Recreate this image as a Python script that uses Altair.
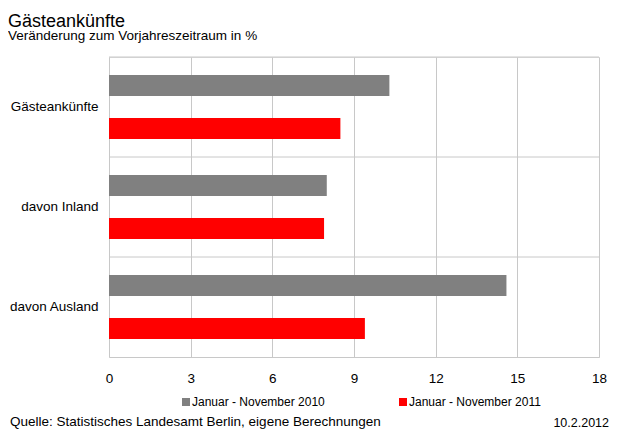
import altair as alt
import pandas as pd

categories = ["Gästeankünfte", "davon Inland", "davon Ausland"]
series = ["Januar - November 2010", "Januar - November 2011"]
values_2010 = [10.3, 8.0, 14.6]
values_2011 = [8.5, 7.9, 9.4]
x_ticks = [0, 3, 6, 9, 12, 15, 18]
colors = ["#808080", "#ff0000"]

title_text = "Gästeankünfte"
subtitle_text = "Veränderung zum Vorjahreszeitraum  in %"
source_text = "Quelle: Statistisches Landesamt Berlin, eigene Berechnungen"
date_text = "10.2.2012"

rows = []
for c, a, b in zip(categories, values_2010, values_2011):
    rows.append({"cat": c, "series": series[0], "value": a})
    rows.append({"cat": c, "series": series[1], "value": b})
df = pd.DataFrame(rows)

FONT = "Liberation Sans"
GRID = "#c8c8c8"

yscale = alt.Scale(domain=categories, paddingInner=0, paddingOuter=0)
xscale = alt.Scale(domain=[0, 18], nice=False)

yaxis = alt.Axis(title=None, grid=False, ticks=False, domain=False,
                 labelFontSize=13.5, labelPadding=11, labelColor="#000000",
                 labelFont=FONT)

bars = alt.Chart(df).mark_bar().encode(
    x=alt.X("value:Q", scale=xscale,
            axis=alt.Axis(values=x_ticks, title=None, grid=True, gridColor=GRID,
                          ticks=False, domain=True, domainColor=GRID,
                          labelFontSize=13.5, labelPadding=14, labelColor="#000000",
                          labelFont=FONT, labelFlush=False)),
    y=alt.Y("cat:N", scale=yscale, sort=categories, axis=yaxis),
    yOffset=alt.YOffset("series:N", sort=series,
                        scale=alt.Scale(paddingInner=0.51, paddingOuter=0.42)),
    color=alt.Color("series:N", sort=series,
                    scale=alt.Scale(domain=series, range=colors),
                    legend=alt.Legend(title=None, orient="none", direction="horizontal",
                                      legendX=71, legendY=339, symbolType="square",
                                      symbolSize=64, symbolStrokeWidth=0,
                                      labelFontSize=12, labelFont=FONT,
                                      labelColor="#000000", columnPadding=72,
                                      labelOffset=0, padding=0)),
)

seps = alt.Chart(pd.DataFrame({"cat": categories})).mark_rule(
    color=GRID, strokeWidth=1
).encode(
    y=alt.Y("cat:N", scale=yscale, sort=categories, bandPosition=0, axis=yaxis),
    x=alt.datum(0, scale=xscale),
    x2=alt.datum(18),
)

def label(text, x, y, size, align="left"):
    return alt.Chart(pd.DataFrame({"t": [text]})).mark_text(
        align=align, baseline="alphabetic", fontSize=size, font=FONT, color="#000000"
    ).encode(text="t:N", x=alt.value(x), y=alt.value(y))

chart = alt.layer(
    seps,
    bars,
    label(title_text, -101, -30, 18),
    label(subtitle_text, -101, -17, 13.5),
    label(source_text, -99, 368.5, 13.5),
    label(date_text, 500, 370, 12.5, align="right"),
).properties(
    width=490,
    height=300,
    autosize=alt.AutoSizeParams(type="none"),
    padding={"left": 101, "top": 49, "right": 11, "bottom": 72},
).configure_view(stroke=None).configure(font=FONT)

chart.save("out.html", embed_options={"renderer": "svg", "actions": False})
